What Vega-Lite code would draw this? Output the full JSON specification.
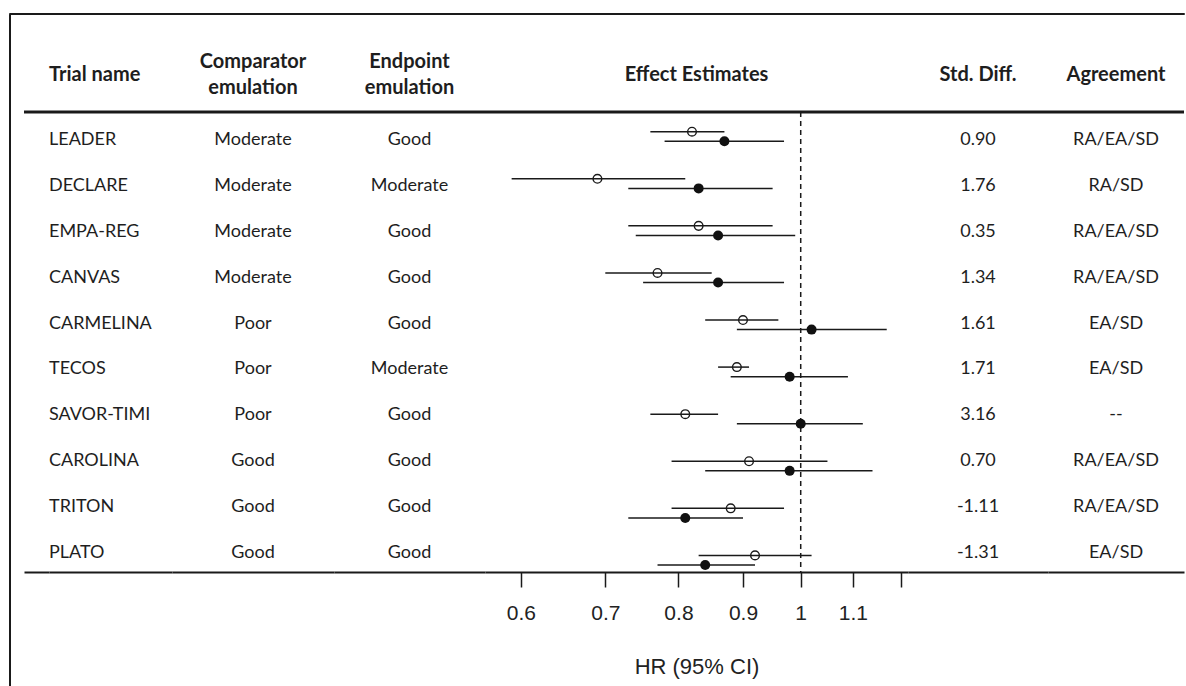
{
  "$schema": "https://vega.github.io/schema/vega-lite/v6.json",
  "padding": {"left": 6, "top": 10, "right": 0, "bottom": 0},
  "background": "white",
  "config": {
    "view": {"stroke": null},
    "font": "Lato",
    "title": {"font": "Lato", "fontSize": 20, "fontWeight": "bold", "color": "#1e1e1e", "baseline": "middle", "offset": 26, "lineHeight": 26.6, "anchor": "middle", "frame": "group"},
    "text": {"font": "Lato", "fontSize": 18, "color": "#1e1e1e"}
  },
  "datasets": {
    "one": [{}],
    "trials": [
      {"trial": "LEADER", "comparator": "Moderate", "endpoint": "Good", "rwe_hr": 0.82, "rwe_lo": 0.76, "rwe_hi": 0.87, "rct_hr": 0.87, "rct_lo": 0.78, "rct_hi": 0.97, "std_diff": "0.90", "agreement": "RA/EA/SD"},
      {"trial": "DECLARE", "comparator": "Moderate", "endpoint": "Moderate", "rwe_hr": 0.69, "rwe_lo": 0.59, "rwe_hi": 0.81, "rct_hr": 0.83, "rct_lo": 0.73, "rct_hi": 0.95, "std_diff": "1.76", "agreement": "RA/SD"},
      {"trial": "EMPA-REG", "comparator": "Moderate", "endpoint": "Good", "rwe_hr": 0.83, "rwe_lo": 0.73, "rwe_hi": 0.95, "rct_hr": 0.86, "rct_lo": 0.74, "rct_hi": 0.99, "std_diff": "0.35", "agreement": "RA/EA/SD"},
      {"trial": "CANVAS", "comparator": "Moderate", "endpoint": "Good", "rwe_hr": 0.77, "rwe_lo": 0.70, "rwe_hi": 0.85, "rct_hr": 0.86, "rct_lo": 0.75, "rct_hi": 0.97, "std_diff": "1.34", "agreement": "RA/EA/SD"},
      {"trial": "CARMELINA", "comparator": "Poor", "endpoint": "Good", "rwe_hr": 0.90, "rwe_lo": 0.84, "rwe_hi": 0.96, "rct_hr": 1.02, "rct_lo": 0.89, "rct_hi": 1.17, "std_diff": "1.61", "agreement": "EA/SD"},
      {"trial": "TECOS", "comparator": "Poor", "endpoint": "Moderate", "rwe_hr": 0.89, "rwe_lo": 0.86, "rwe_hi": 0.91, "rct_hr": 0.98, "rct_lo": 0.88, "rct_hi": 1.09, "std_diff": "1.71", "agreement": "EA/SD"},
      {"trial": "SAVOR-TIMI", "comparator": "Poor", "endpoint": "Good", "rwe_hr": 0.81, "rwe_lo": 0.76, "rwe_hi": 0.86, "rct_hr": 1.00, "rct_lo": 0.89, "rct_hi": 1.12, "std_diff": "3.16", "agreement": "--"},
      {"trial": "CAROLINA", "comparator": "Good", "endpoint": "Good", "rwe_hr": 0.91, "rwe_lo": 0.79, "rwe_hi": 1.05, "rct_hr": 0.98, "rct_lo": 0.84, "rct_hi": 1.14, "std_diff": "0.70", "agreement": "RA/EA/SD"},
      {"trial": "TRITON", "comparator": "Good", "endpoint": "Good", "rwe_hr": 0.88, "rwe_lo": 0.79, "rwe_hi": 0.97, "rct_hr": 0.81, "rct_lo": 0.73, "rct_hi": 0.90, "std_diff": "-1.11", "agreement": "RA/EA/SD"},
      {"trial": "PLATO", "comparator": "Good", "endpoint": "Good", "rwe_hr": 0.92, "rwe_lo": 0.83, "rwe_hi": 1.02, "rct_hr": 0.84, "rct_lo": 0.77, "rct_hi": 0.92, "std_diff": "-1.31", "agreement": "EA/SD"}
    ]
  },
  "spacing": 0,
  "bounds": "flush",
  "vconcat": [
    {
      "width": 1175, "height": 1,
      "data": {"name": "one"},
      "mark": {"type": "point", "opacity": 0},
      "view": {"stroke": "#1a1a1a", "strokeWidth": 1}
    },
    {
      "spacing": 14,
      "bounds": "flush",
      "hconcat": [
        {
          "width": 1, "height": 672,
          "data": {"name": "one"},
          "mark": {"type": "point", "opacity": 0},
          "view": {"stroke": "#1a1a1a", "strokeWidth": 1}
        },
        {
          "spacing": 0,
          "bounds": "flush",
          "vconcat": [
            {
              "width": 1, "height": 98,
              "data": {"name": "one"},
              "mark": {"type": "point", "opacity": 0}
            },
            {
              "spacing": 0,
              "bounds": "flush",
              "hconcat": [
                {
                  "width": 25, "height": 460,
                  "data": {"name": "one"},
                  "layer": [
                    {"mark": {"type": "rule", "strokeWidth": 3, "color": "#1a1a1a"}, "encoding": {"x": {"value": 0}, "x2": {"value": "width"}, "y": {"value": 0}}},
                    {"mark": {"type": "text", "text": ""},
                     "encoding": {"x": {"datum": 0, "type": "quantitative", "scale": {"domain": [-1, 1]}, "axis": {"ticks": false, "labels": false, "title": null, "grid": false, "domainWidth": 2, "domainColor": "#1a1a1a"}}}}
                  ]
                },
                {
                  "width": 123, "height": 460,
                  "title": {"text": "Trial name", "anchor": "start"},
                  "layer": [
                    {"data": {"name": "one"}, "mark": {"type": "rule", "strokeWidth": 3, "color": "#1a1a1a"}, "encoding": {"x": {"value": 0}, "x2": {"value": "width"}, "y": {"value": 0}}},
                    {"data": {"name": "trials"}, "mark": {"type": "text", "align": "left", "baseline": "middle"},
                     "encoding": {
                       "x": {"datum": -1, "type": "quantitative", "scale": {"domain": [-1, 1]}, "axis": {"ticks": false, "labels": false, "title": null, "grid": false, "domainWidth": 2, "domainColor": "#1a1a1a"}},
                       "y": {"field": "trial", "type": "nominal", "sort": null, "scale": {"type": "point", "padding": 0.512, "align": 0.595}, "axis": null},
                       "text": {"field": "trial"}}}
                  ]
                },
                {
                  "width": 162, "height": 460,
                  "title": {"text": ["Comparator", "emulation"], "offset": 12},
                  "layer": [
                    {"data": {"name": "one"}, "mark": {"type": "rule", "strokeWidth": 3, "color": "#1a1a1a"}, "encoding": {"x": {"value": 0}, "x2": {"value": "width"}, "y": {"value": 0}}},
                    {"data": {"name": "trials"}, "mark": {"type": "text", "align": "center", "baseline": "middle"},
                     "encoding": {
                       "x": {"datum": 0, "type": "quantitative", "scale": {"domain": [-1, 1]}, "axis": {"ticks": false, "labels": false, "title": null, "grid": false, "domainWidth": 2, "domainColor": "#1a1a1a"}},
                       "y": {"field": "trial", "type": "nominal", "sort": null, "scale": {"type": "point", "padding": 0.512, "align": 0.595}, "axis": null},
                       "text": {"field": "comparator"}}}
                  ]
                },
                {
                  "width": 151, "height": 460,
                  "title": {"text": ["Endpoint", "emulation"], "offset": 12},
                  "layer": [
                    {"data": {"name": "one"}, "mark": {"type": "rule", "strokeWidth": 3, "color": "#1a1a1a"}, "encoding": {"x": {"value": 0}, "x2": {"value": "width"}, "y": {"value": 0}}},
                    {"data": {"name": "trials"}, "mark": {"type": "text", "align": "center", "baseline": "middle"},
                     "encoding": {
                       "x": {"datum": 0, "type": "quantitative", "scale": {"domain": [-1, 1]}, "axis": {"ticks": false, "labels": false, "title": null, "grid": false, "domainWidth": 2, "domainColor": "#1a1a1a"}},
                       "y": {"field": "trial", "type": "nominal", "sort": null, "scale": {"type": "point", "padding": 0.512, "align": 0.595}, "axis": null},
                       "text": {"field": "endpoint"}}}
                  ]
                },
                {
                  "width": 423, "height": 460,
                  "title": {"text": "Effect Estimates"},
                  "layer": [
                    {"data": {"name": "one"}, "mark": {"type": "rule", "strokeWidth": 3, "color": "#1a1a1a"}, "encoding": {"x": {"value": 0}, "x2": {"value": "width"}, "y": {"value": 0}}},
                    {"data": {"name": "trials"}, "mark": {"type": "rule", "strokeWidth": 1.5, "color": "#1a1a1a", "yOffset": -4.8},
                     "encoding": {
                       "x": {"field": "rwe_lo", "type": "quantitative", "title": "HR (95% CI)",
                             "scale": {"type": "log", "domain": [0.562, 1.2163], "nice": false, "zero": false},
                             "axis": {"values": [0.6, 0.7, 0.8, 0.9, 1, 1.1, 1.2], "labelExpr": "datum.value > 1.15 ? '' : format(datum.value, '~g')", "grid": false, "domainColor": "#1a1a1a", "domainWidth": 2, "tickColor": "#1a1a1a", "tickWidth": 1.5, "tickSize": 15, "labelFont": "Liberation Sans", "labelFontSize": 21, "labelColor": "#222222", "labelPadding": 15, "labelFlush": false, "labelOverlap": false, "titleFont": "Liberation Sans", "titleFontSize": 22, "titleFontWeight": "normal", "titleColor": "#222222", "titlePadding": 33}},
                       "x2": {"field": "rwe_hi"},
                       "y": {"field": "trial", "type": "nominal", "sort": null, "scale": {"type": "point", "padding": 0.3855, "align": 0.675}, "axis": null}
                     }},
                    {"data": {"name": "trials"}, "mark": {"type": "rule", "strokeWidth": 1.5, "color": "#1a1a1a", "yOffset": 4.8},
                     "encoding": {
                       "x": {"field": "rct_lo", "type": "quantitative", "title": "HR (95% CI)"},
                       "x2": {"field": "rct_hi"},
                       "y": {"field": "trial", "type": "nominal", "sort": null}
                     }},
                    {"data": {"name": "one"}, "mark": {"type": "rule", "strokeWidth": 1.5, "color": "#1a1a1a", "strokeDash": [5, 4]},
                     "encoding": {"x": {"datum": 1, "type": "quantitative", "title": "HR (95% CI)"}}},
                    {"data": {"name": "trials"}, "mark": {"type": "point", "shape": "circle", "filled": false, "size": 75, "strokeWidth": 1.4, "color": "#1a1a1a", "opacity": 1, "yOffset": -4.8},
                     "encoding": {
                       "x": {"field": "rwe_hr", "type": "quantitative", "title": "HR (95% CI)"},
                       "y": {"field": "trial", "type": "nominal", "sort": null}
                     }},
                    {"data": {"name": "trials"}, "mark": {"type": "point", "shape": "circle", "filled": true, "size": 100, "color": "#111111", "opacity": 1, "yOffset": 4.8},
                     "encoding": {
                       "x": {"field": "rct_hr", "type": "quantitative", "title": "HR (95% CI)"},
                       "y": {"field": "trial", "type": "nominal", "sort": null}
                     }}
                  ]
                },
                {
                  "width": 140, "height": 460,
                  "title": {"text": "Std. Diff."},
                  "layer": [
                    {"data": {"name": "one"}, "mark": {"type": "rule", "strokeWidth": 3, "color": "#1a1a1a"}, "encoding": {"x": {"value": 0}, "x2": {"value": "width"}, "y": {"value": 0}}},
                    {"data": {"name": "trials"}, "mark": {"type": "text", "align": "center", "baseline": "middle"},
                     "encoding": {
                       "x": {"datum": 0, "type": "quantitative", "scale": {"domain": [-1, 1]}, "axis": {"ticks": false, "labels": false, "title": null, "grid": false, "domainWidth": 2, "domainColor": "#1a1a1a"}},
                       "y": {"field": "trial", "type": "nominal", "sort": null, "scale": {"type": "point", "padding": 0.512, "align": 0.595}, "axis": null},
                       "text": {"field": "std_diff"}}}
                  ]
                },
                {
                  "width": 136, "height": 460,
                  "title": {"text": "Agreement"},
                  "layer": [
                    {"data": {"name": "one"}, "mark": {"type": "rule", "strokeWidth": 3, "color": "#1a1a1a"}, "encoding": {"x": {"value": 0}, "x2": {"value": "width"}, "y": {"value": 0}}},
                    {"data": {"name": "trials"}, "mark": {"type": "text", "align": "center", "baseline": "middle"},
                     "encoding": {
                       "x": {"datum": 0, "type": "quantitative", "scale": {"domain": [-1, 1]}, "axis": {"ticks": false, "labels": false, "title": null, "grid": false, "domainWidth": 2, "domainColor": "#1a1a1a"}},
                       "y": {"field": "trial", "type": "nominal", "sort": null, "scale": {"type": "point", "padding": 0.512, "align": 0.595}, "axis": null},
                       "text": {"field": "agreement"}}}
                  ]
                }
              ]
            }
          ]
        }
      ]
    }
  ]
}
